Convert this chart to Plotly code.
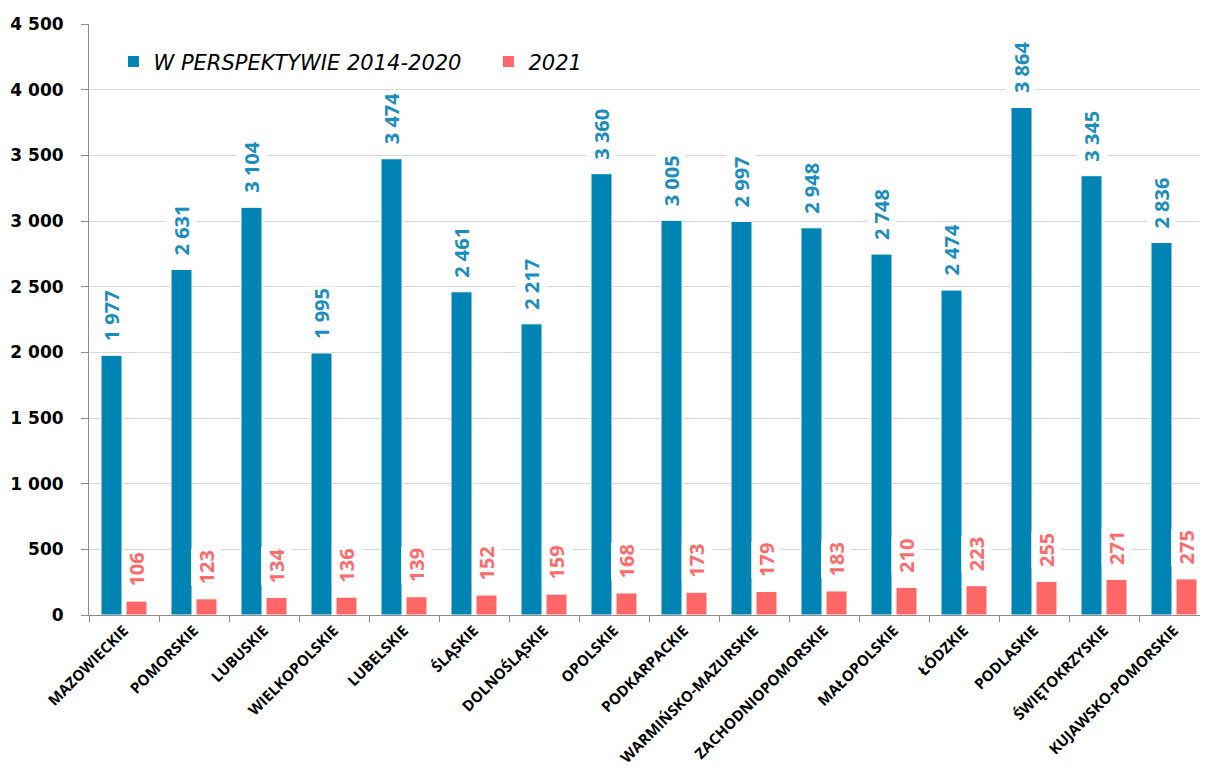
"""Grouped bar chart: W perspektywie 2014-2020 vs 2021 by voivodeship."""

import plotly.graph_objects as go

regions = [
    "MAZOWIECKIE", "POMORSKIE", "LUBUSKIE", "WIELKOPOLSKIE", "LUBELSKIE",
    "ŚLĄSKIE", "DOLNOŚLĄSKIE", "OPOLSKIE", "PODKARPACKIE", "WARMIŃSKO-MAZURSKIE",
    "ZACHODNIOPOMORSKIE", "MAŁOPOLSKIE", "ŁÓDZKIE", "PODLASKIE",
    "ŚWIĘTOKRZYSKIE", "KUJAWSKO-POMORSKIE",
]
perspective_2014_2020 = [1977, 2631, 3104, 1995, 3474, 2461, 2217, 3360,
                         3005, 2997, 2948, 2748, 2474, 3864, 3345, 2836]
year_2021 = [106, 123, 134, 136, 139, 152, 159, 168,
             173, 179, 183, 210, 223, 255, 271, 275]

_COL_BLUE = "#0084B4"
_COL_BLUE_TXT = "#1A8DC0"
_COL_PINK = "#FF6666"
_COL_PINK_TXT = "#FF6B6B"
_FONT = "Open Sans"
_FONT_WIDE = "DejaVu Sans"

# the original chart runs to the right edge of its frame
_CAT_PX = 70.0
_PLOT_PX = 1111


def _fmt(v: int) -> str:
    return f"{v:,}".replace(",", " ")


fig = go.Figure()
fig.add_trace(go.Bar(
    x=regions, y=perspective_2014_2020, name="W PERSPEKTYWIE 2014-2020",
    marker=dict(color=_COL_BLUE, line=dict(color="white", width=1)),
))
fig.add_trace(go.Bar(
    x=regions, y=year_2021, name="2021",
    marker=dict(color=_COL_PINK, line=dict(color="white", width=1)),
))

# value labels as annotations so they can mask the gridlines like the original
for values, shift, color in (
    (perspective_2014_2020, -12.5, _COL_BLUE_TXT),
    (year_2021, 12.5, _COL_PINK_TXT),
):
    for reg, val in zip(regions, values):
        fig.add_annotation(
            x=reg, y=val, text=f"<b>{_fmt(val)}</b>", showarrow=False,
            textangle=-90, xshift=shift, yshift=12, yanchor="bottom",
            bgcolor="white", borderpad=1,
            font=dict(family=_FONT, size=20, color=color),
        )

# page body adds an 8px margin, so the figure is sized to fit inside it
fig.update_layout(
    width=1192, height=764,
    barmode="group", bargap=0.286, bargroupgap=0.16,
    separators=", ",
    plot_bgcolor="white", paper_bgcolor="white",
    margin=dict(l=81, r=0, t=16, b=157, autoexpand=False),
    showlegend=True,
    legend=dict(
        orientation="h", x=0.022, y=0.936, xanchor="left", yanchor="middle",
        font=dict(family=_FONT_WIDE, size=21, color="black", style="italic"),
        bgcolor="rgba(0,0,0,0)", itemwidth=30, entrywidth=330,
    ),
)
fig.update_xaxes(
    type="category", tickangle=-45, tickson="boundaries", automargin=False,
    range=[-0.5, -0.5 + _PLOT_PX / _CAT_PX],
    ticks="outside", ticklen=6, tickcolor="#8c8c8c",
    showline=True, linecolor="#8c8c8c", linewidth=1,
    tickfont=dict(family=_FONT, size=15, color="black", weight="bold"),
)
fig.update_yaxes(
    range=[0, 4500], dtick=500, tickformat=",d", automargin=False,
    ticks="outside", ticklen=7, tickcolor="#8c8c8c", ticklabelstandoff=14,
    showline=True, linecolor="#8c8c8c", linewidth=1,
    showgrid=True, gridcolor="#d9d9d9", gridwidth=1, zeroline=False,
    tickfont=dict(family=_FONT_WIDE, size=17, color="black", weight="bold"),
)

fig.write_html("out.html")
